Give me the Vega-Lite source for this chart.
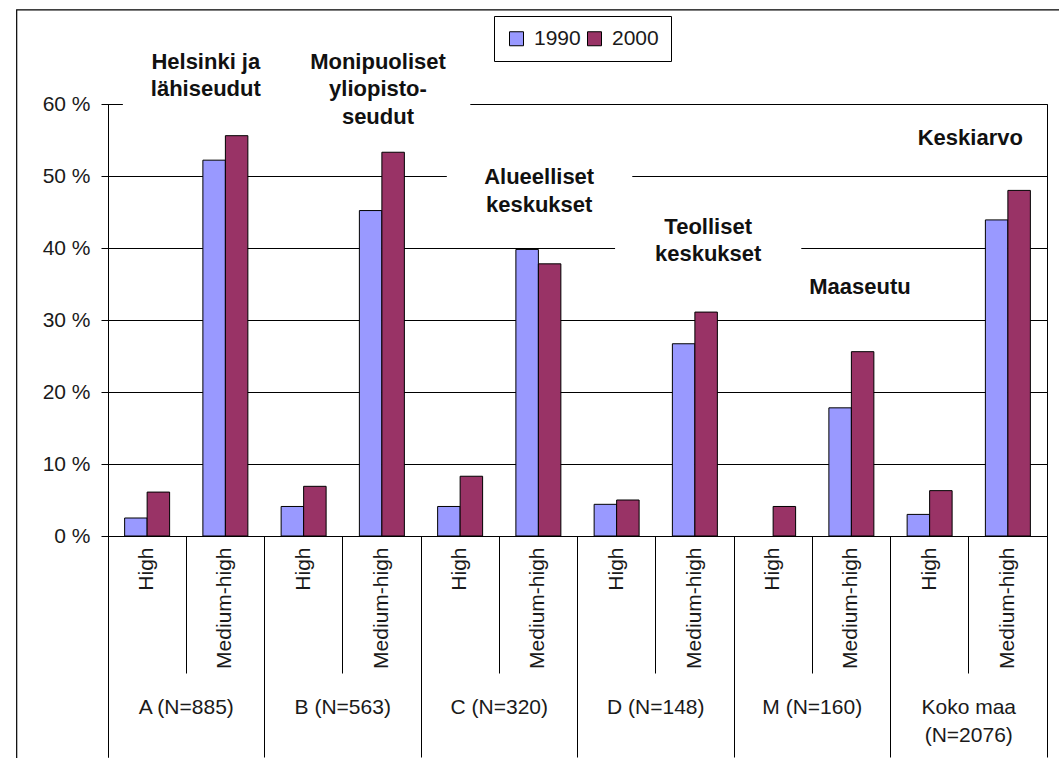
{
  "$schema": "https://vega.github.io/schema/vega-lite/v6.json",
  "width": 939,
  "height": 432,
  "autosize": {"type": "none"},
  "padding": {"left": 108, "top": 104, "right": 12, "bottom": 222},
  "background": "white",
  "config": {
    "view": {"stroke": "black", "strokeWidth": 1},
    "font": "Liberation Sans"
  },
  "datasets": {
    "bars": [
      {"cat": "A|High", "year": "1990", "value": 2.5},
      {"cat": "A|High", "year": "2000", "value": 6.1},
      {"cat": "A|Medium-high", "year": "1990", "value": 52.2},
      {"cat": "A|Medium-high", "year": "2000", "value": 55.6},
      {"cat": "B|High", "year": "1990", "value": 4.1},
      {"cat": "B|High", "year": "2000", "value": 6.9},
      {"cat": "B|Medium-high", "year": "1990", "value": 45.2},
      {"cat": "B|Medium-high", "year": "2000", "value": 53.3},
      {"cat": "C|High", "year": "1990", "value": 4.1},
      {"cat": "C|High", "year": "2000", "value": 8.3},
      {"cat": "C|Medium-high", "year": "1990", "value": 39.8},
      {"cat": "C|Medium-high", "year": "2000", "value": 37.8},
      {"cat": "D|High", "year": "1990", "value": 4.4},
      {"cat": "D|High", "year": "2000", "value": 5.0},
      {"cat": "D|Medium-high", "year": "1990", "value": 26.7},
      {"cat": "D|Medium-high", "year": "2000", "value": 31.1},
      {"cat": "M|High", "year": "2000", "value": 4.1},
      {"cat": "M|Medium-high", "year": "1990", "value": 17.8},
      {"cat": "M|Medium-high", "year": "2000", "value": 25.6},
      {"cat": "K|High", "year": "1990", "value": 3.0},
      {"cat": "K|High", "year": "2000", "value": 6.3},
      {"cat": "K|Medium-high", "year": "1990", "value": 43.9},
      {"cat": "K|Medium-high", "year": "2000", "value": 48.0}
    ],
    "groups": [
      {"group": "A (N=885)"},
      {"group": "B (N=563)"},
      {"group": "C (N=320)"},
      {"group": "D (N=148)"},
      {"group": "M (N=160)"},
      {"group": "Koko maa|(N=2076)"}
    ],
    "boxes": [
      {"x1": 0.19, "x2": 4.63, "y1": 58.5, "y2": 61.5},
      {"x1": 4.33, "x2": 6.7, "y1": 48.5, "y2": 51.5},
      {"x1": 6.48, "x2": 8.86, "y1": 38.5, "y2": 41.5}
    ],
    "notes": [
      {"tx": 1.25, "ty": 65.9, "label": "Helsinki ja|lähiseudut"},
      {"tx": 3.45, "ty": 65.9, "label": "Monipuoliset|yliopisto-|seudut"},
      {"tx": 5.51, "ty": 49.86, "label": "Alueelliset|keskukset"},
      {"tx": 7.67, "ty": 42.92, "label": "Teolliset|keskukset"},
      {"tx": 9.61, "ty": 34.58, "label": "Maaseutu"},
      {"tx": 11.02, "ty": 55.28, "label": "Keskiarvo"}
    ]
  },
  "resolve": {"scale": {"x": "independent"}, "axis": {"x": "independent", "y": "independent"}},
  "layer": [
    {
      "data": {"name": "boxes"},
      "mark": {"type": "rect", "fill": "white", "stroke": null},
      "encoding": {
        "x": {
          "field": "x1", "type": "quantitative",
          "scale": {"domain": [0, 12], "nice": false, "zero": false},
          "axis": {"orient": "bottom", "values": [0, 12], "tickSize": 221, "labels": false, "domain": false, "grid": false, "title": null, "tickColor": "black", "tickWidth": 1}
        },
        "x2": {"field": "x2"},
        "y": {"field": "y1", "type": "quantitative", "scale": {"domain": [0, 60], "nice": false}, "axis": null},
        "y2": {"field": "y2"}
      }
    },
    {
      "data": {"values": [{}]},
      "mark": {"type": "rect", "fill": "transparent", "stroke": "black", "strokeWidth": 1.2},
      "encoding": {
        "x": {"datum": -1.167, "type": "quantitative", "scale": {"domain": [0, 12], "nice": false, "zero": false}, "axis": null},
        "x2": {"datum": 13},
        "y": {"datum": 73.06, "type": "quantitative", "scale": {"domain": [0, 60], "nice": false}, "axis": null},
        "y2": {"datum": -40}
      }
    },
    {
      "data": {"name": "bars"},
      "mark": {"type": "bar", "stroke": "black", "strokeWidth": 1},
      "encoding": {
        "x": {
          "field": "cat", "type": "nominal", "sort": null,
          "scale": {"paddingInner": 0, "paddingOuter": 0},
          "axis": {
            "orient": "bottom", "title": null, "bandPosition": 0,
            "tickSize": 137, "tickColor": "black", "domainColor": "black",
            "labelAngle": -90, "labelOffset": 0, "labelPadding": -126,
            "labelExpr": "split(datum.label, '|')[1]",
            "labelFont": "Liberation Sans", "labelFontSize": 21, "labelColor": "#1a1a1a"
          }
        },
        "xOffset": {"field": "year", "type": "nominal", "scale": {"paddingInner": 0, "paddingOuter": 0.74}},
        "y": {
          "field": "value", "type": "quantitative",
          "scale": {"domain": [0, 60], "nice": false},
          "axis": {
            "orient": "left", "title": null, "values": [0, 10, 20, 30, 40, 50, 60],
            "labelExpr": "datum.value + ' %'",
            "tickSize": 7, "tickColor": "black", "domainColor": "black",
            "labelPadding": 11, "labelFont": "Liberation Sans", "labelFontSize": 21, "labelColor": "#1a1a1a",
            "grid": true, "gridColor": "black", "gridOpacity": 1, "gridWidth": 1.2
          }
        },
        "color": {
          "field": "year", "type": "nominal",
          "scale": {"domain": ["1990", "2000"], "range": ["#9999FF", "#993366"]},
          "legend": {
            "title": null, "orient": "none", "legendX": 386, "legendY": -88,
            "direction": "horizontal", "strokeColor": "black", "fillColor": "white",
            "padding": 12, "symbolType": "square", "symbolSize": 196,
            "symbolStrokeColor": "black", "symbolStrokeWidth": 1,
            "labelFont": "Liberation Sans", "labelFontSize": 21, "labelColor": "#1a1a1a",
            "labelOffset": 7, "columnPadding": 3
          }
        }
      }
    },
    {
      "data": {"name": "groups"},
      "mark": {"type": "bar", "opacity": 0},
      "encoding": {
        "x": {
          "field": "group", "type": "nominal", "sort": null,
          "scale": {"type": "band", "paddingInner": 0, "paddingOuter": 0},
          "axis": {
            "orient": "bottom", "title": null, "bandPosition": 0,
            "tickSize": 221, "tickColor": "black", "domain": false,
            "labelAngle": 0, "labelOffset": 0, "labelPadding": -60.5,
            "labelBaseline": "top", "labelLineHeight": 28,
            "labelExpr": "split(datum.label, '|')",
            "labelFont": "Liberation Sans", "labelFontSize": 21, "labelColor": "#1a1a1a"
          }
        }
      }
    },
    {
      "data": {"name": "notes"},
      "mark": {"type": "text", "font": "Liberation Sans", "fontWeight": "bold", "fontSize": 22, "color": "#111", "lineBreak": "|", "lineHeight": 27.5, "baseline": "middle", "align": "center"},
      "encoding": {
        "x": {"field": "tx", "type": "quantitative", "scale": {"domain": [0, 12], "nice": false, "zero": false}, "axis": null},
        "y": {"field": "ty", "type": "quantitative", "scale": {"domain": [0, 60], "nice": false}, "axis": null},
        "text": {"field": "label"}
      }
    }
  ]
}
